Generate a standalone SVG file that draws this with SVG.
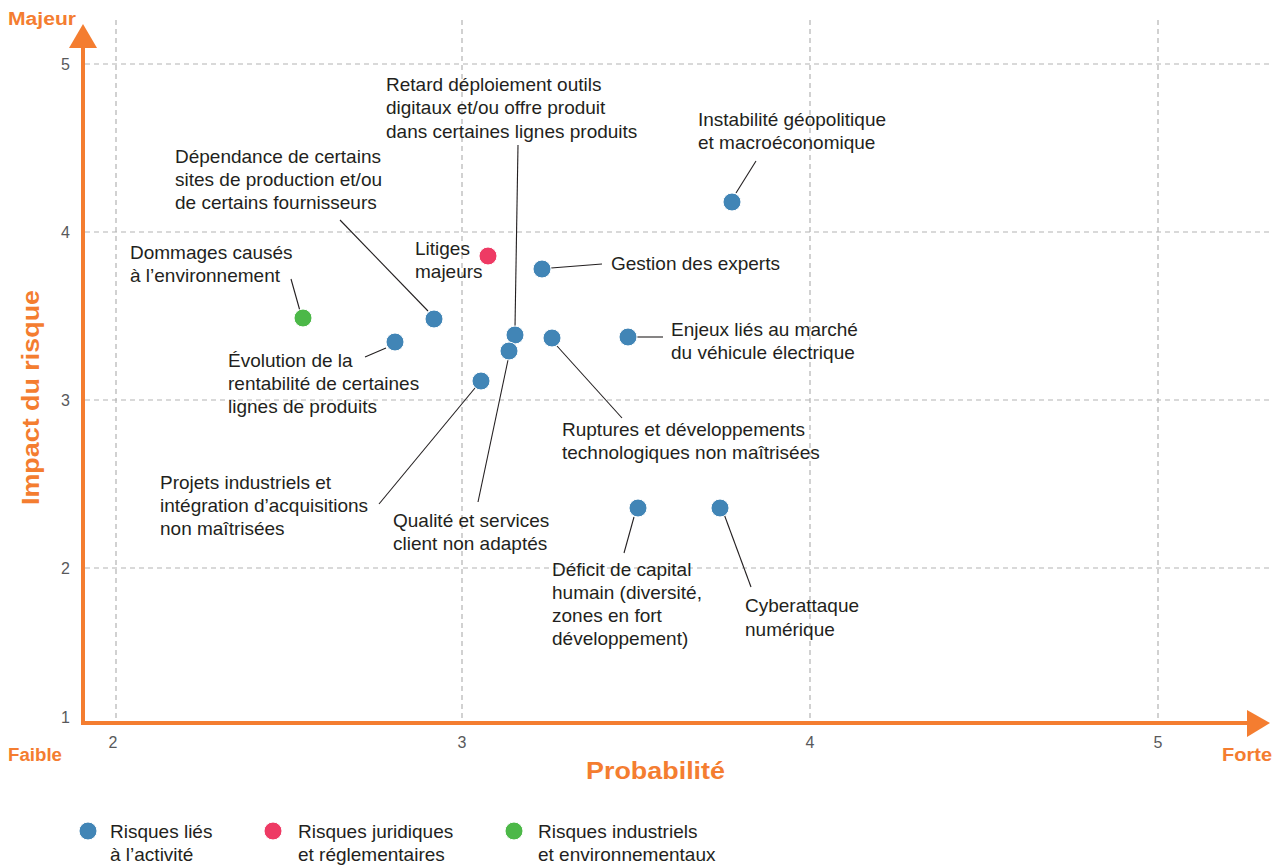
<svg xmlns="http://www.w3.org/2000/svg" width="1277" height="868" viewBox="0 0 1277 868">
<style>
.grid{stroke:#b3b3b3;stroke-width:1.2;stroke-dasharray:5 4;fill:none}
.axis{stroke:#f47d30;stroke-width:4;fill:none}
.ah{fill:#f47d30}
.tick{font-family:"Liberation Sans",Arial,sans-serif;font-size:16px;fill:#58595b}
.ttl{font-family:"Liberation Sans",Arial,sans-serif;font-weight:bold;fill:#f47d30}
.lbl{font-family:"Liberation Sans",Arial,sans-serif;font-size:19px;fill:#231f20}
.lead{stroke:#231f20;stroke-width:1.1;fill:none}
.b{fill:#4185b6;stroke:#fff;stroke-width:1}
.r{fill:#ee3a64;stroke:#fff;stroke-width:1}
.g{fill:#4cb848;stroke:#fff;stroke-width:1}
</style>
<rect width="1277" height="868" fill="#fff"/>
<g id="grid">
<line class="grid" x1="116" y1="20" x2="116" y2="720"/>
<line class="grid" x1="462" y1="20" x2="462" y2="720"/>
<line class="grid" x1="810" y1="20" x2="810" y2="720"/>
<line class="grid" x1="1158" y1="20" x2="1158" y2="720"/>
<line class="grid" x1="85" y1="64" x2="1270" y2="64"/>
<line class="grid" x1="85" y1="232" x2="1270" y2="232"/>
<line class="grid" x1="85" y1="400" x2="1270" y2="400"/>
<line class="grid" x1="85" y1="568" x2="1270" y2="568"/>
</g>
<g id="axes">
<polyline class="axis" points="83,46 83,723 1249,723"/>
<polygon class="ah" points="83,24 69,48 97,48"/>
<polygon class="ah" points="1270,723 1247,710 1247,737"/>
<text class="tick" x="70" y="70" text-anchor="end">5</text>
<text class="tick" x="70" y="238" text-anchor="end">4</text>
<text class="tick" x="70" y="406" text-anchor="end">3</text>
<text class="tick" x="70" y="574" text-anchor="end">2</text>
<text class="tick" x="70" y="723" text-anchor="end">1</text>
<text class="tick" x="113" y="748" text-anchor="middle">2</text>
<text class="tick" x="462" y="748" text-anchor="middle">3</text>
<text class="tick" x="810" y="748" text-anchor="middle">4</text>
<text class="tick" x="1158" y="748" text-anchor="middle">5</text>
<text class="ttl" x="8" y="25" font-size="18" textLength="68" lengthAdjust="spacingAndGlyphs">Majeur</text>
<text class="ttl" x="8" y="761" font-size="18" textLength="54" lengthAdjust="spacingAndGlyphs">Faible</text>
<text class="ttl" x="1222" y="761" font-size="18" textLength="50" lengthAdjust="spacingAndGlyphs">Forte</text>
<text class="ttl" x="586" y="779" font-size="24" textLength="139" lengthAdjust="spacingAndGlyphs">Probabilité</text>
<text class="ttl" transform="translate(39,505) rotate(-90)" font-size="24" textLength="215" lengthAdjust="spacingAndGlyphs">Impact du risque</text>
</g>
<g id="connectors">
<line class="lead" x1="518" y1="145" x2="515" y2="327"/>
<line class="lead" x1="736" y1="193" x2="756" y2="161"/>
<line class="lead" x1="340" y1="220" x2="428" y2="311"/>
<line class="lead" x1="291" y1="279" x2="300" y2="311"/>
<line class="lead" x1="551" y1="268" x2="602" y2="264"/>
<line class="lead" x1="637" y1="337" x2="663" y2="337"/>
<line class="lead" x1="365" y1="357" x2="386" y2="348"/>
<line class="lead" x1="557" y1="346" x2="622" y2="418"/>
<line class="lead" x1="475" y1="388" x2="379" y2="504"/>
<line class="lead" x1="508" y1="360" x2="478" y2="502"/>
<line class="lead" x1="634" y1="517" x2="624" y2="553"/>
<line class="lead" x1="724" y1="514" x2="751" y2="587"/>
</g>
<g id="instabilite"><circle class="b" cx="732" cy="202" r="9"/><text class="lbl" x="698" y="126">Instabilité géopolitique</text><text class="lbl" x="698" y="149">et macroéconomique</text></g>
<g id="retard"><circle class="b" cx="515" cy="335" r="9"/><text class="lbl" x="386" y="91">Retard déploiement outils</text><text class="lbl" x="386" y="114">digitaux et/ou offre produit</text><text class="lbl" x="386" y="138">dans certaines lignes produits</text></g>
<g id="qualite"><circle class="b" cx="509" cy="351" r="9"/><text class="lbl" x="393" y="527">Qualité et services</text><text class="lbl" x="393" y="550">client non adaptés</text></g>
<g id="dependance"><circle class="b" cx="434" cy="319" r="9"/><text class="lbl" x="175" y="163">Dépendance de certains</text><text class="lbl" x="175" y="186">sites de production et/ou</text><text class="lbl" x="175" y="209">de certains fournisseurs</text></g>
<g id="dommages"><circle class="g" cx="303" cy="318" r="9"/><text class="lbl" x="130" y="259">Dommages causés</text><text class="lbl" x="130" y="282">à l’environnement</text></g>
<g id="litiges"><circle class="r" cx="488" cy="256" r="9"/><text class="lbl" x="415" y="255">Litiges</text><text class="lbl" x="415" y="278">majeurs</text></g>
<g id="gestion"><circle class="b" cx="542" cy="269" r="9"/><text class="lbl" x="611" y="270">Gestion des experts</text></g>
<g id="enjeux"><circle class="b" cx="628" cy="337" r="9"/><text class="lbl" x="671" y="336">Enjeux liés au marché</text><text class="lbl" x="671" y="359">du véhicule électrique</text></g>
<g id="evolution"><circle class="b" cx="395" cy="342" r="9"/><text class="lbl" x="228" y="367">Évolution de la</text><text class="lbl" x="228" y="390">rentabilité de certaines</text><text class="lbl" x="228" y="413">lignes de produits</text></g>
<g id="ruptures"><circle class="b" cx="552" cy="338" r="9"/><text class="lbl" x="562" y="436">Ruptures et développements</text><text class="lbl" x="562" y="459">technologiques non maîtrisées</text></g>
<g id="projets"><circle class="b" cx="481" cy="381" r="9"/><text class="lbl" x="160" y="489">Projets industriels et</text><text class="lbl" x="160" y="512">intégration d’acquisitions</text><text class="lbl" x="160" y="535">non maîtrisées</text></g>
<g id="deficit"><circle class="b" cx="638" cy="508" r="9"/><text class="lbl" x="552" y="576">Déficit de capital</text><text class="lbl" x="552" y="599">humain (diversité,</text><text class="lbl" x="552" y="622">zones en fort</text><text class="lbl" x="552" y="645">développement)</text></g>
<g id="cyber"><circle class="b" cx="720" cy="508" r="9"/><text class="lbl" x="745" y="612">Cyberattaque</text><text class="lbl" x="745" y="636">numérique</text></g>
<g id="legend">
<circle class="b" cx="88" cy="831" r="9"/><text class="lbl" x="110" y="838">Risques liés</text><text class="lbl" x="110" y="861">à l’activité</text>
<circle class="r" cx="273" cy="831" r="9"/><text class="lbl" x="298" y="838">Risques juridiques</text><text class="lbl" x="298" y="861">et réglementaires</text>
<circle class="g" cx="514" cy="831" r="9"/><text class="lbl" x="538" y="838">Risques industriels</text><text class="lbl" x="538" y="861">et environnementaux</text>
</g>
</svg>
